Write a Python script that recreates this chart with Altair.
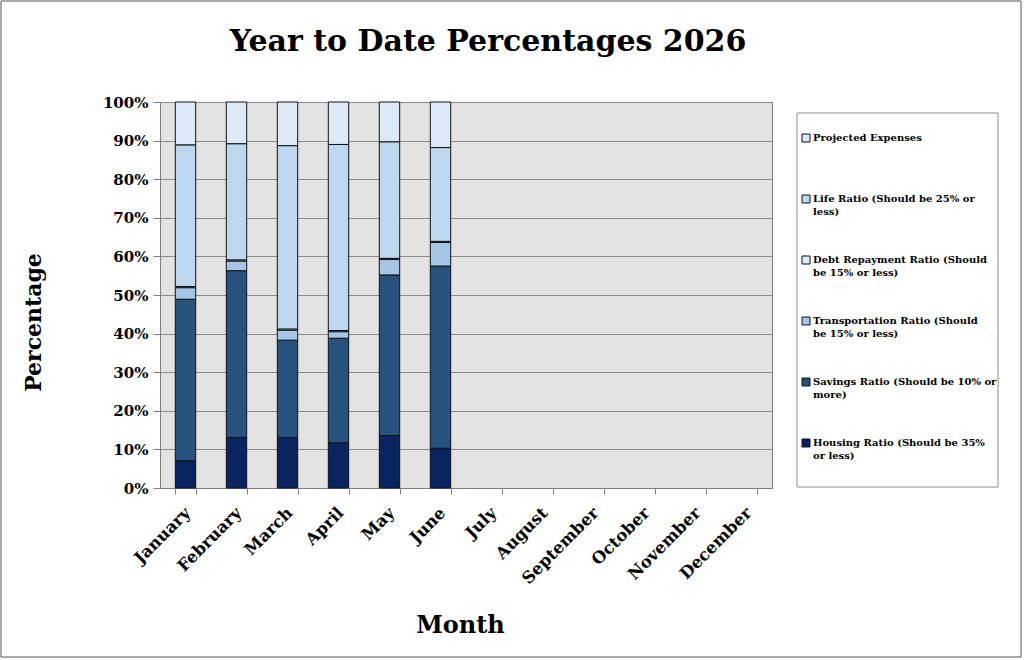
import altair as alt
import pandas as pd

months = ["January", "February", "March", "April", "May", "June",
          "July", "August", "September", "October", "November", "December"]
filled_months = months[:6]

series = [
    "Housing Ratio (Should be 35%|or less)",
    "Savings Ratio (Should be 10% or|more)",
    "Transportation Ratio (Should|be 15% or less)",
    "Debt Repayment Ratio (Should|be 15% or less)",
    "Life Ratio (Should be 25% or|less)",
    "Projected Expenses",
]
colors = ["#0a2461", "#28527e", "#a5c6e6", "#dcedf8", "#bdd7ee", "#dde9f6"]

housing = [7.1, 13.1, 13.1, 11.7, 13.6, 10.3]
savings = [41.8, 43.2, 25.2, 27.1, 41.6, 47.2]
transport = [3.0, 2.5, 2.6, 1.7, 4.0, 6.1]
debt = [0.3, 0.3, 0.3, 0.3, 0.3, 0.3]
life = [36.7, 30.1, 47.5, 48.2, 30.2, 24.3]
projected = [11.1, 10.8, 11.3, 11.0, 10.3, 11.8]
y_ticks = [0.0, 0.1, 0.2, 0.3, 0.4, 0.5, 0.6, 0.7, 0.8, 0.9, 1.0]

values = [housing, savings, transport, debt, life, projected]
rows = []
for si, (name, vals) in enumerate(zip(series, values)):
    for m, v in zip(filled_months, vals):
        rows.append({"Month": m, "Series": name, "Value": v, "order": si})
df = pd.DataFrame(rows)

FONT = "DejaVu Serif"

bars = alt.Chart(df).mark_bar(stroke="#111111", strokeWidth=1).encode(
    x=alt.X("Month:N", sort=months, scale=alt.Scale(domain=months, paddingInner=0.6, paddingOuter=0.3),
            axis=alt.Axis(title="Month", labelAngle=315, labelAlign="right", labelBaseline="middle",
                          labelFontSize=16.5, labelPadding=16, labelOffset=2, tickBand="extent", tickSize=6,
                          titleFontSize=24, titleX=300, titleY=137, titleBaseline="middle",
                          titleAnchor="start", titleAlign="center", grid=False)),
    y=alt.Y("Value:Q", stack="normalize",
            scale=alt.Scale(domain=[0, 1]),
            axis=alt.Axis(title="Percentage", format=".0%", values=y_ticks, labelOverlap=False,
                          labelFontSize=15, labelPadding=5, tickSize=7,
                          titleFontSize=22, titleX=-127, titleY=220, titleAngle=270,
                          titleAlign="center", titleBaseline="middle")),
    color=alt.Color("Series:N",
                    scale=alt.Scale(domain=series[::-1], range=colors[::-1]),
                    legend=alt.Legend(title=None, orient="none", legendX=637, legendY=27,
                                      labelExpr="split(datum.label, '|')",
                                      labelFontSize=10, labelFont=FONT, labelFontWeight="bold",
                                      labelColor="black",
                                      labelLimit=220, symbolType="square", symbolSize=64,
                                      symbolStrokeColor="#111111", symbolStrokeWidth=1,
                                      rowPadding=37, padding=4, gridAlign="all",
                                      labelBaseline="middle", labelOffset=2)),
    order=alt.Order("order:Q", sort="ascending"),
)

frame = alt.Chart(pd.DataFrame({"a": [0]})).mark_rect(
    fill=None, stroke="#555555", strokeWidth=1
).encode(x=alt.value(-159), x2=alt.value(861), y=alt.value(-101), y2=alt.value(555))

legend_box = alt.Chart(pd.DataFrame({"a": [0]})).mark_rect(
    fill="white", stroke="#8c8c8c", strokeWidth=1
).encode(x=alt.value(637), x2=alt.value(838), y=alt.value(11), y2=alt.value(385))

chart = alt.layer(bars, frame, legend_box).properties(
    width=612, height=386,
    background="white",
    title=alt.Title("Year to Date Percentages 2026", anchor="middle", frame="group", dx=22,
                    fontSize=30, font=FONT, fontWeight="bold", color="black", dy=60),
    autosize=alt.AutoSizeParams(type="none"),
    padding={"left": 160, "top": 102, "right": 252, "bottom": 172},
).configure(
    view=alt.ViewConfig(fill="#e3e3e3", stroke="#7f7f7f", strokeWidth=1),
    axis=alt.AxisConfig(labelFont=FONT, labelFontWeight="bold", labelColor="black",
                        titleFont=FONT, titleFontWeight="bold", titleColor="black",
                        domainColor="#7f7f7f", tickColor="#7f7f7f", gridColor="#8a8a8a",
                        gridOpacity=1),
    style={"guide-label": {"lineHeight": 13}},
)

chart.save("out.html", embed_options={"renderer": "svg", "actions": False})
